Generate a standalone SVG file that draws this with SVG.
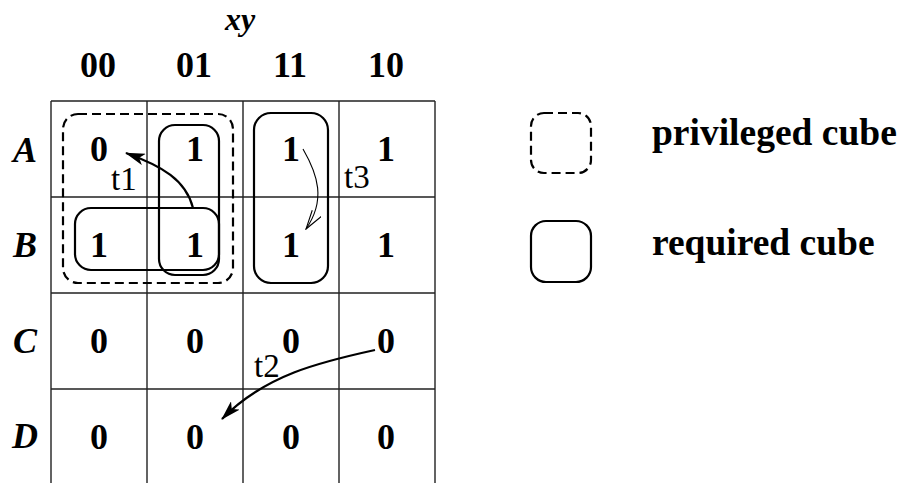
<svg xmlns="http://www.w3.org/2000/svg" width="907" height="483" viewBox="0 0 907 483">
<style>
.grid{stroke:#222;stroke-width:1.4;fill:none}
.b{font-family:"Liberation Serif",serif;font-weight:bold;font-size:36px;fill:#000;text-anchor:middle}
.bi{font-family:"Liberation Serif",serif;font-weight:bold;font-style:italic;font-size:36px;fill:#000;text-anchor:middle}
.xy{font-size:32px}
.t{font-family:"Liberation Serif",serif;font-size:33px;fill:#000}
.lg{font-family:"Liberation Serif",serif;font-weight:bold;font-size:37.5px;fill:#000}
.req{fill:none;stroke:#000;stroke-width:2.2}
.priv{fill:none;stroke:#000;stroke-width:2.2;stroke-dasharray:9 5}
.arr{fill:none;stroke:#000;stroke-width:2.2}
.thin{fill:none;stroke:#000;stroke-width:1.1}
</style>
<defs>
<marker id="ah" viewBox="0 0 20 12" refX="19" refY="6" markerWidth="20" markerHeight="12" markerUnits="userSpaceOnUse" orient="auto">
<path d="M0,0 L20,6 L0,12 L5,6 Z" fill="#000"/>
</marker>
<marker id="av" viewBox="0 0 20 12" refX="19" refY="6" markerWidth="20" markerHeight="12" markerUnits="userSpaceOnUse" orient="auto">
<path d="M0,0.5 L19,6 L0,11.5" fill="none" stroke="#000" stroke-width="1.1"/>
</marker>
</defs>
<g id="grid">
<path class="grid" d="M51,101 H435 M51,197 H435 M51,293 H435 M51,389 H435 M51,101 V483 M147,101 V483 M243,101 V483 M339,101 V483 M435,101 V483"/>
</g>
<g id="headers">
<text class="bi xy" x="240" y="30">xy</text>
<text class="b" x="98" y="77">00</text>
<text class="b" x="194" y="77">01</text>
<text class="b" x="290" y="77">11</text>
<text class="b" x="386" y="77">10</text>
<text class="bi" x="25" y="162">A</text>
<text class="bi" x="25" y="257">B</text>
<text class="bi" x="25" y="353">C</text>
<text class="bi" x="25" y="448">D</text>
</g>
<g id="cells">
<text class="b" x="99" y="161">0</text>
<text class="b" x="195" y="161">1</text>
<text class="b" x="291" y="161">1</text>
<text class="b" x="386" y="161">1</text>
<text class="b" x="99" y="257">1</text>
<text class="b" x="195" y="257">1</text>
<text class="b" x="291" y="257">1</text>
<text class="b" x="386" y="257">1</text>
<text class="b" x="99" y="353">0</text>
<text class="b" x="195" y="353">0</text>
<text class="b" x="291" y="353">0</text>
<text class="b" x="386" y="353">0</text>
<text class="b" x="99" y="449">0</text>
<text class="b" x="195" y="449">0</text>
<text class="b" x="291" y="449">0</text>
<text class="b" x="386" y="449">0</text>
</g>
<g id="privileged-cube">
<rect class="priv" x="63" y="114" width="170" height="169" rx="15"/>
</g>
<g id="required-cubes">
<rect class="req" x="159" y="125" width="60" height="150" rx="16"/>
<rect class="req" x="75" y="208" width="144" height="62" rx="16"/>
<rect class="req" x="254" y="113" width="74" height="170" rx="17"/>
</g>
<g id="connectors">
<path class="arr" d="M193,208 C186,180 162,166 126,153" marker-end="url(#ah)"/>
<path class="arr" d="M375,350 C320,362 265,375 222,419" marker-end="url(#ah)"/>
<path class="thin" d="M303,149 C318,175 326,200 306,229" marker-end="url(#av)"/>
</g>
<g id="labels">
<text class="t" x="111" y="190">t1</text>
<text class="t" x="254" y="377">t2</text>
<text class="t" x="344" y="188">t3</text>
</g>
<g id="legend">
<rect class="priv" x="531" y="113" width="60" height="60" rx="13"/>
<text class="lg" x="652" y="145">privileged cube</text>
<rect class="req" x="531" y="221" width="60" height="61" rx="15"/>
<text class="lg" x="652" y="255">required cube</text>
</g>
</svg>
